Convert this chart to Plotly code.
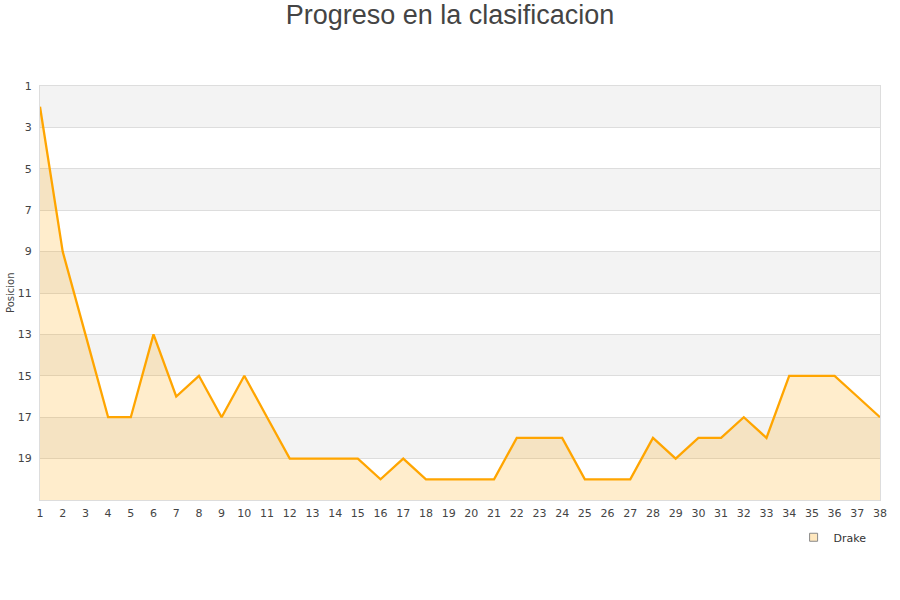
import plotly.graph_objects as go

jornadas = list(range(1, 39))
posiciones = [2, 9, 13, 17, 17, 13, 16, 15, 17, 15, 17, 19, 19, 19, 19, 20, 19, 20, 20, 20,
              20, 18, 18, 18, 20, 20, 20, 18, 19, 18, 18, 17, 18, 15, 15, 15, 16, 17]
y_ticks = [1, 3, 5, 7, 9, 11, 13, 15, 17, 19]
equipo = "Drake"

fig = go.Figure()

fig.add_trace(go.Scatter(x=jornadas, y=[21] * len(jornadas), mode="lines",
                         line=dict(width=0), showlegend=False, hoverinfo="skip"))
fig.add_trace(go.Scatter(x=jornadas, y=posiciones, mode="lines", fill="tonexty",
                         fillcolor="rgba(255,165,0,0.2)",
                         line=dict(color="#FFA500", width=2.3), showlegend=False, name=equipo))
fig.add_trace(go.Scatter(x=[None], y=[None], mode="markers", name=equipo,
                         marker=dict(symbol="square", size=8, color="rgba(255,165,0,0.25)",
                                     line=dict(color="#888", width=1))))

shapes = []
for i, t in enumerate(y_ticks):
    if i % 2 == 0:
        shapes.append(dict(type="rect", xref="paper", yref="y", x0=0, x1=1, y0=t, y1=t + 2,
                           fillcolor="#F3F3F3", line=dict(width=0), layer="below"))

fig.update_layout(
    width=900, height=600,
    paper_bgcolor="white", plot_bgcolor="white",
    margin=dict(l=40, r=20, t=86, b=100, autoexpand=False),
    title=dict(text="Progreso en la clasificacion", x=0.5, xanchor="center", y=1 - 15 / 600, yanchor="middle",
               font=dict(family="Liberation Sans, Arial", size=27, color="#444")),
    shapes=shapes,
    font=dict(family="DejaVu Sans", size=11, color="#444"),
    xaxis=dict(range=[1, 38], tickmode="array", tickvals=jornadas, showgrid=False, automargin=False,
               zeroline=False, showline=True, linecolor="#ddd", mirror=True,
               ticks="", ticklabelstandoff=3, tickfont=dict(size=11, color="#444")),
    yaxis=dict(range=[21, 1], tickmode="array", tickvals=y_ticks, showgrid=True, automargin=False,
               gridcolor="#dddddd", zeroline=False, showline=True, linecolor="#ddd", mirror=True,
               ticks="", ticklabelstandoff=5, tickfont=dict(size=11, color="#444")),
    annotations=[dict(text="Posicion", xref="paper", yref="paper", x=-0.0357, y=0.5,
                      xanchor="center", yanchor="middle", textangle=-90, showarrow=False,
                      font=dict(size=10, color="#444"))],
    legend=dict(x=0.99, xanchor="right", y=-0.09, yanchor="middle", bgcolor="rgba(0,0,0,0)",
                font=dict(size=11, color="#333")),
    showlegend=True,
)

fig.write_html("out.html", config={"displayModeBar": False},
               post_script="document.body.style.margin='0px';document.body.style.overflow='hidden';")
